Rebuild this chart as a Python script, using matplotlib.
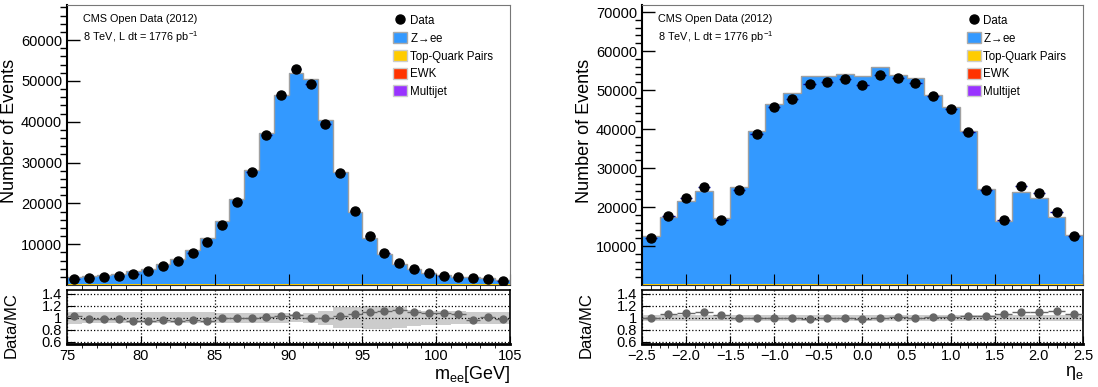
import matplotlib
matplotlib.use('Agg')
import matplotlib.pyplot as plt
from matplotlib.lines import Line2D
from matplotlib.patches import Patch
import numpy as np

plt.rcParams['font.family'] = ['Liberation Sans', 'DejaVu Sans']
plt.rcParams['mathtext.fontset'] = 'custom'
plt.rcParams['mathtext.rm'] = 'Liberation Sans'
plt.rcParams['mathtext.it'] = 'Liberation Sans'

# ---- m_ee panel ----
mee_edges = np.arange(75, 106, 1)
mee_data = [1390, 1800, 2040, 2290, 2780, 3430, 4580, 5880, 7920, 10620,
            14790, 20340, 27700, 36850, 46490, 52860, 49350, 39380, 27450, 18060,
            11930, 7920, 5470, 3840, 2940, 2290, 1880, 1630, 1470, 1060]
mee_zee = [1550, 1880, 2120, 2370, 3020, 3680, 4740, 6130, 8170, 11270,
           15280, 20750, 27780, 36850, 46160, 51720, 50240, 40110, 27450, 17570,
           11190, 7350, 4900, 3590, 2700, 2120, 1720, 1720, 1390, 980]
mee_ratio = [1.036, 0.98, 0.986, 0.986, 0.94, 0.95, 0.97, 0.947, 0.964, 0.95,
             0.99, 0.99, 1.0, 1.014, 1.025, 1.042, 0.997, 0.99, 1.025, 1.06,
             1.10, 1.12, 1.137, 1.09, 1.087, 1.075, 1.064, 0.97, 1.02, 0.98]
mee_band = [0.10, 0.09, 0.09, 0.09, 0.09, 0.09, 0.09, 0.09, 0.09, 0.09,
            0.08, 0.08, 0.08, 0.08, 0.08, 0.07, 0.08, 0.12, 0.18, 0.18,
            0.19, 0.19, 0.18, 0.13, 0.12, 0.12, 0.11, 0.10, 0.10, 0.10]

# ---- eta panel ----
eta_edges = np.round(np.arange(-2.5, 2.51, 0.2), 2)
eta_data = [12140, 17690, 22310, 25210, 16580, 24360, 38800, 45640, 47690, 51540,
            52050, 52910, 51370, 53930, 52990, 51790, 48380, 45130, 39230, 24270,
            16750, 25470, 23680, 18720, 12650]
eta_zee = [12310, 17090, 21110, 23680, 16840, 24700, 39060, 46070, 48890, 53160,
           53160, 53760, 53160, 55470, 53590, 52740, 48460, 45300, 39060, 24360,
           16150, 23500, 21880, 17180, 12390]
eta_ratio = [1.0, 1.064, 1.08, 1.09, 1.04, 1.0, 1.0, 1.0, 0.99, 0.986,
             0.997, 0.997, 0.98, 0.99, 1.008, 0.997, 1.008, 1.02, 1.036, 1.03,
             1.07, 1.10, 1.10, 1.115, 1.064]
eta_band = [0.05] * 25

# small backgrounds (barely visible at the bottom)
bkg_names = ['Top-Quark Pairs', 'EWK', 'Multijet']
bkg_colors = ['#ffcc00', '#ff3300', '#9933ff']
bkg_level = [150, 120, 60]

zee_color = '#3399ff'
W, H = 1098, 387


def panel(x0, x1, edges, data, zee, ratio, band, ymax, yticks, xticks,
          xminor, xlabel):
    fig = plt.gcf()
    ax = fig.add_axes([x0 / W, 1 - 285 / H, (x1 - x0) / W, 280 / H])
    rx = fig.add_axes([x0 / W, 1 - 344 / H, (x1 - x0) / W, 54 / H])
    edges = np.asarray(edges, float)
    centers = 0.5 * (edges[1:] + edges[:-1])
    width = edges[1] - edges[0]
    n = len(centers)

    # stacked MC
    bottom = np.zeros(n)
    for name, col, lev in zip(bkg_names, bkg_colors, bkg_level):
        top = bottom + lev
        ax.stairs(top, edges, baseline=bottom, fill=True, color=col, lw=0)
        bottom = top
    top = bottom + np.asarray(zee)
    ax.stairs(top, edges, baseline=bottom, fill=True, color=zee_color, lw=0)
    ax.stairs(top, edges, baseline=None, color='#a0a0a0', lw=1.0)

    ax.errorbar(centers, data, xerr=0.35 * width, fmt='none', ecolor='#000099',
                elinewidth=1, zorder=4)
    ax.plot(centers, data, 'o', color='black', ms=6.5, zorder=5)

    ax.set_xlim(edges[0], edges[-1])
    ax.set_ylim(0, ymax)
    ax.set_yticks(yticks)
    ax.set_yticks(np.arange(2000, ymax, 2000), minor=True)
    ax.set_xticks(xticks)
    ax.set_xticks(xminor, minor=True)
    ax.tick_params(labelbottom=False, direction='in', labelsize=10.5)
    ax.tick_params(axis='y', which='major', length=9, width=1)
    ax.tick_params(axis='y', which='minor', length=5, width=1)
    ax.tick_params(axis='x', which='major', length=8)
    ax.tick_params(axis='x', which='minor', length=4)
    for s in ['top', 'right']:
        ax.spines[s].set_color('#777777')
    ax.spines['left'].set_linewidth(1.5)
    ax.spines['bottom'].set_color('#333333')
    ax.set_ylabel('Number of Events', fontsize=13)

    ax.text(0.036, 0.95, 'CMS Open Data (2012)', transform=ax.transAxes,
            fontsize=7.8, va='center')
    ax.text(0.036, 0.885, '8 TeV, L dt = 1776 pb$^{-1}$', transform=ax.transAxes,
            fontsize=7.8, va='center')

    handles = [Line2D([], [], marker='o', color='black', ls='none', ms=6.5)]
    handles.append(Patch(facecolor=zee_color, edgecolor='#aaaaaa'))
    for col in bkg_colors:
        handles.append(Patch(facecolor=col, edgecolor='#cccccc'))
    labels = ['Data', r'Z$\!\rightarrow\!$ee'] + bkg_names
    ax.legend(handles, labels, loc='upper left', bbox_to_anchor=(0.715, 1.0),
              frameon=False, fontsize=8.3, handlelength=1.25, handleheight=1.1,
              handletextpad=0.2, labelspacing=0.45, borderpad=0.3)

    # ratio panel
    rb = np.asarray(band)
    rx.stairs(1 + rb, edges, baseline=1 - rb, fill=True, color='#cccccc', lw=0)
    rx.errorbar(centers, ratio, xerr=0.5 * width, yerr=0.012, fmt='o',
                color='#666666', ms=5, elinewidth=1, zorder=4)
    rx.set_xlim(edges[0], edges[-1])
    rx.set_ylim(0.56, 1.465)
    rx.set_yticks([0.6, 0.8, 1, 1.2, 1.4])
    rx.set_yticklabels(['0.6', '0.8', '1', '1.2', '1.4'])
    rx.set_xticks(xticks)
    rx.set_xticks(xminor, minor=True)
    rx.grid(True, ls=':', color='black', lw=0.9)
    rx.set_axisbelow(False)
    rx.tick_params(direction='in', labelsize=10.5)
    rx.tick_params(axis='y', which='major', length=6)
    rx.tick_params(axis='x', which='major', length=6)
    rx.tick_params(axis='x', which='minor', length=3)
    for s in rx.spines.values():
        s.set_linewidth(1.2)
    rx.spines['bottom'].set_linewidth(2)
    rx.set_ylabel('Data/MC', fontsize=12)
    rx.set_xlabel(xlabel, fontsize=13, loc='right', labelpad=1)
    return ax, rx


fig = plt.figure(figsize=(W / 100, H / 100), dpi=100)

ax1, r1 = panel(67, 510, mee_edges, mee_data, mee_zee, mee_ratio, mee_band,
                68600, np.arange(10000, 60001, 10000), np.arange(75, 106, 5),
                np.arange(75, 106, 1), r'm$_{\mathregular{ee}}$[GeV]')
ax2, r2 = panel(642, 1083, eta_edges, eta_data, eta_zee, eta_ratio, eta_band,
                71800, np.arange(10000, 70001, 10000), np.arange(-2.5, 2.51, 0.5),
                np.arange(-2.5, 2.51, 0.1), r'$\eta_{\mathregular{e}}$')

for a in (ax1, ax2):
    a.yaxis.set_label_coords(-0.11, 0.55)
for r in (r1, r2):
    r.yaxis.set_label_coords(-0.11, 0.35)

plt.savefig('out.png', dpi=100)
plt.close()
print('done')
